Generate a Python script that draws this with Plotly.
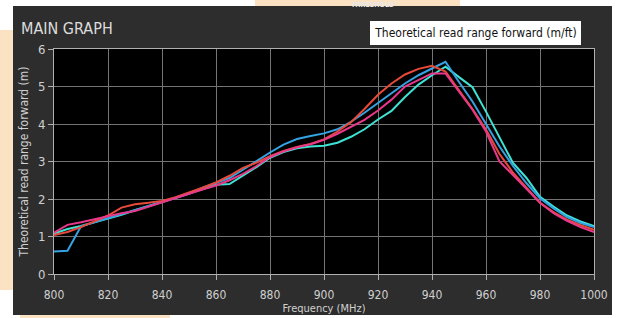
import plotly.graph_objects as go

freq = list(range(800, 1001, 5))

blue = [0.60, 0.62, 1.27, 1.38, 1.47, 1.58, 1.70, 1.80, 1.91, 2.02, 2.14, 2.30, 2.42, 2.56, 2.78,
        3.02, 3.24, 3.45, 3.60, 3.68, 3.75, 3.86, 4.06, 4.30, 4.55, 4.82, 5.08, 5.30, 5.48, 5.66,
        5.12, 4.60, 4.00, 3.40, 2.88, 2.42, 2.02, 1.75, 1.52, 1.36, 1.25]
red = [1.04, 1.12, 1.25, 1.40, 1.56, 1.77, 1.86, 1.90, 1.95, 2.05, 2.17, 2.30, 2.44, 2.62, 2.83,
       2.97, 3.14, 3.28, 3.39, 3.47, 3.59, 3.80, 4.05, 4.40, 4.78, 5.08, 5.32, 5.47, 5.55, 5.40,
       4.90, 4.40, 3.85, 3.20, 2.70, 2.30, 1.90, 1.65, 1.45, 1.30, 1.18]
magenta = [1.10, 1.31, 1.38, 1.46, 1.56, 1.62, 1.68, 1.80, 1.91, 2.03, 2.14, 2.25, 2.36, 2.50, 2.67,
           2.88, 3.12, 3.27, 3.38, 3.46, 3.58, 3.74, 3.92, 4.11, 4.36, 4.65, 5.00, 5.18, 5.35, 5.35,
           4.85, 4.38, 3.80, 3.00, 2.64, 2.28, 1.90, 1.62, 1.42, 1.25, 1.12]
cyan = [1.08, 1.20, 1.28, 1.38, 1.47, 1.58, 1.70, 1.82, 1.92, 2.03, 2.15, 2.27, 2.38, 2.40, 2.62,
        2.85, 3.10, 3.25, 3.35, 3.40, 3.42, 3.50, 3.66, 3.86, 4.12, 4.35, 4.72, 5.05, 5.30, 5.53,
        5.25, 4.98, 4.33, 3.63, 2.96, 2.56, 2.06, 1.80, 1.56, 1.40, 1.28]

xticks = list(range(800, 1001, 20))
yticks = [0, 1, 2, 3, 4, 5, 6]

W, H = 618, 318
L, R, T, B = 54, 24, 49, 44
PW, PH = W - L - R, H - T - B

def px(x):
    return (x - L) / PW

def py(y):
    return (H - B - y) / PH

FONT = "DejaVu Sans Condensed, Liberation Sans Narrow, DejaVu Sans, sans-serif"

fig = go.Figure()
series = [("cyan", cyan, "#3fe3d4"), ("blue", blue, "#35a2e4"),
          ("red", red, "#e84a3a"), ("magenta", magenta, "#e8388a")]
for name, vals, col in series:
    fig.add_trace(go.Scatter(x=freq, y=vals, mode="lines", name=name,
                             line=dict(color=col, width=2), showlegend=False))

shapes = [
    # peach watermark pieces
    dict(type="rect", xref="paper", yref="paper", layer="below",
         x0=px(0), x1=px(13), y0=py(290), y1=py(30), fillcolor="#fbe2c2", line=dict(width=0)),
    dict(type="rect", xref="paper", yref="paper", layer="below",
         x0=px(20), x1=px(170), y0=py(318), y1=py(314), fillcolor="#fbe2c2", line=dict(width=0)),
    dict(type="rect", xref="paper", yref="paper", layer="below",
         x0=px(255), x1=px(460), y0=py(7), y1=py(0), fillcolor="#fbe2c2", line=dict(width=0)),
    # dark panel
    dict(type="rect", xref="paper", yref="paper", layer="below",
         x0=px(13), x1=px(612), y0=py(315), y1=py(6), fillcolor="#2d2d2d", line=dict(width=0)),
    # black plot area
    dict(type="rect", xref="x", yref="y", layer="below",
         x0=800, x1=1000, y0=0, y1=6, fillcolor="#000000", line=dict(width=0)),
]

annotations = [
    dict(text="<b>THRESHOLD</b>", xref="paper", yref="paper", x=px(372), y=py(10),
         xanchor="center", yanchor="bottom", showarrow=False, borderpad=0,
         font=dict(family=FONT, size=7, color="#e8e8e8")),
    dict(text="MAIN GRAPH", xref="paper", yref="paper", x=px(19), y=py(28),
         xanchor="left", yanchor="middle", showarrow=False,
         font=dict(family=FONT, size=16, color="#dcdcdc")),
    dict(text="Theoretical read range forward (m/ft)", xref="paper", yref="paper",
         x=px(475.5), y=py(33.5), xanchor="center", yanchor="middle", showarrow=False,
         width=207, height=20, bgcolor="#ffffff", bordercolor="#ffffff", borderpad=1,
         font=dict(family=FONT, size=12, color="#111111")),
]

fig.update_layout(
    width=W, height=H,
    margin=dict(l=L, r=R, t=T, b=B, pad=0, autoexpand=False),
    paper_bgcolor="#ffffff",
    plot_bgcolor="rgba(0,0,0,0)",
    shapes=shapes,
    annotations=annotations,
    font=dict(family=FONT, color="#d0d0d0"),
    xaxis=dict(range=[800, 1000], tickvals=xticks, ticktext=[str(v) for v in xticks],
               automargin=False, ticklabelstandoff=5,
               showgrid=True, gridcolor="#747474", gridwidth=1,
               ticks="outside", ticklen=5, tickcolor="#b0b0b0",
               showline=True, linecolor="#b0b0b0", linewidth=1, mirror=True,
               zeroline=False, tickfont=dict(family=FONT, size=12, color="#d0d0d0"),
               title=dict(text="Frequency (MHz)", standoff=0,
                          font=dict(family=FONT, size=11, color="#d0d0d0"))),
    yaxis=dict(range=[0, 6], tickvals=yticks, ticktext=[str(v) for v in yticks],
               automargin=False,
               showgrid=True, gridcolor="#747474", gridwidth=1,
               ticks="outside", ticklen=5, tickcolor="#b0b0b0",
               showline=True, linecolor="#b0b0b0", linewidth=1, mirror=True,
               zeroline=False, tickfont=dict(family=FONT, size=13, color="#d0d0d0"),
               title=dict(text="Theoretical read range forward (m)", standoff=6,
                          font=dict(family=FONT, size=12, color="#d0d0d0"))),
)

fig.write_html("out.html", config={"displayModeBar": False},
               post_script="document.body.style.margin='0';")
